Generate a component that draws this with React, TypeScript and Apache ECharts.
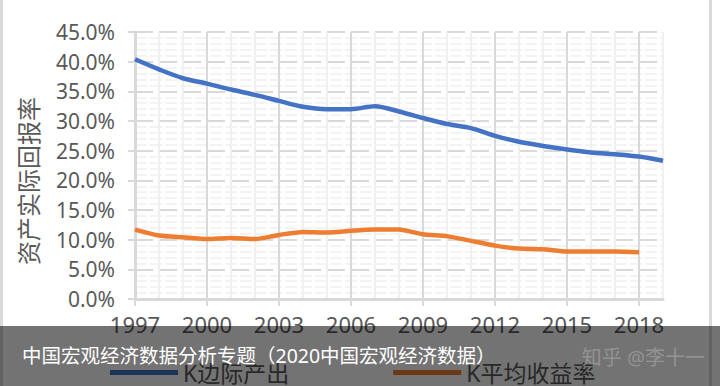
import React, { useEffect, useRef } from "react";
import * as echarts from "echarts";

const years = ["1997","1998","1999","2000","2001","2002","2003","2004","2005","2006","2007","2008","2009","2010","2011","2012","2013","2014","2015","2016","2017","2018","2019"];
const marginalOutput = [40.4, 38.7, 37.2, 36.3, 35.3, 34.4, 33.4, 32.4, 32.0, 32.0, 32.5, 31.6, 30.5, 29.5, 28.8, 27.5, 26.5, 25.8, 25.2, 24.7, 24.4, 24.0, 23.3];
const avgReturn = [11.7, 10.7, 10.4, 10.1, 10.3, 10.1, 10.8, 11.3, 11.2, 11.5, 11.7, 11.7, 10.9, 10.6, 9.8, 9.0, 8.5, 8.4, 8.0, 8.0, 8.0, 7.9];
const seriesNames = ["K边际产出", "K平均收益率"];
const yTitle = "资产实际回报率";
const bannerText = "中国宏观经济数据分析专题（2020中国宏观经济数据）";
const watermark = "知乎 @李十一";

export default function App() {
  const ref = useRef<HTMLDivElement>(null);
  useEffect(() => {
    if (!ref.current) return;
    const chart = echarts.init(ref.current, null, { renderer: "svg" });
    const font = "'Noto Sans', 'Noto Sans CJK SC', sans-serif";
    chart.setOption({
      animation: false,
      backgroundColor: "#ffffff",
      textStyle: { fontFamily: font },
      grid: { left: 135, right: 57, top: 32, bottom: 87, containLabel: false },
      legend: {
        data: seriesNames,
        left: 105,
        top: 356,
        icon: "rect",
        itemWidth: 68,
        itemHeight: 5,
        itemGap: 104,
        textStyle: { fontSize: 23, color: "#595959", fontFamily: font },
        z: 2,
      },
      xAxis: {
        type: "category",
        data: years,
        boundaryGap: false,
        axisLine: { lineStyle: { color: "#d9d9d9", width: 3 } },
        axisTick: { show: true, interval: 2, length: 7, lineStyle: { color: "#d9d9d9", width: 2 } },
        axisLabel: { interval: 2, fontSize: 22, color: "#595959", margin: 14, fontFamily: font },
        splitLine: {
          show: true,
          interval: 0,
          lineStyle: { color: ["#d9d9d9", "#f0f0f0", "#f0f0f0"], width: 2 },
        },
      },
      yAxis: {
        type: "value",
        min: 0,
        max: 45,
        interval: 5,
        axisLine: { show: true, lineStyle: { color: "#d9d9d9", width: 3 } },
        axisTick: { show: true, length: 7, lineStyle: { color: "#d9d9d9", width: 2 } },
        axisLabel: {
          fontSize: 21,
          color: "#595959",
          margin: 20,
          fontFamily: font,
          formatter: (v: number) => v.toFixed(1) + "%",
        },
        splitLine: { show: true, lineStyle: { color: "#d9d9d9", width: 2, type: [18, 6] } },
        minorTick: { show: false, splitNumber: 5 },
        minorSplitLine: { show: true, lineStyle: { color: "#f0f0f0", width: 1.5, type: [12, 3] } },
      },
      series: [
        {
          name: seriesNames[0],
          type: "line",
          data: marginalOutput,
          smooth: 0.3,
          showSymbol: false,
          symbol: "none",
          itemStyle: { color: "#4472C4" },
          lineStyle: { color: "#4472C4", width: 4.5 },
          z: 3,
        },
        {
          name: seriesNames[1],
          type: "line",
          data: avgReturn,
          smooth: 0.2,
          showSymbol: false,
          symbol: "none",
          itemStyle: { color: "#ED7D31" },
          lineStyle: { color: "#ED7D31", width: 4.5 },
          z: 3,
        },
      ],
      graphic: [
        {
          type: "text",
          x: 28,
          y: 181,
          rotation: Math.PI / 2,
          style: {
            text: yTitle,
            font: `24px ${font}`,
            fill: "#595959",
            textAlign: "center",
            textVerticalAlign: "middle",
          },
          z: 5,
        },
        { type: "line", shape: { x1: 1.5, y1: 0, x2: 1.5, y2: 386 }, style: { stroke: "#d9d9d9", lineWidth: 3 }, z: 5 },
        { type: "line", shape: { x1: 710.5, y1: 0, x2: 710.5, y2: 386 }, style: { stroke: "#d9d9d9", lineWidth: 3 }, z: 5 },
        {
          type: "rect",
          shape: { x: 0, y: 326, width: 720, height: 60 },
          style: { fill: "rgba(0,0,0,0.55)" },
          z: 100,
        },
        {
          type: "text",
          x: 22,
          y: 355,
          style: {
            text: bannerText,
            font: `19.5px ${font}`,
            fill: "#ffffff",
            textAlign: "left",
            textVerticalAlign: "middle",
          },
          z: 101,
        },
        {
          type: "text",
          x: 705,
          y: 357,
          style: {
            text: watermark,
            font: `20px ${font}`,
            fill: "rgba(170,170,170,0.6)",
            textAlign: "right",
            textVerticalAlign: "middle",
          },
          z: 101,
        },
      ],
    });
    return () => chart.dispose();
  }, []);
  return (
    <div
      ref={ref}
      style={{ position: "fixed", left: 0, top: 0, width: 720, height: 386 }}
    />
  );
}
